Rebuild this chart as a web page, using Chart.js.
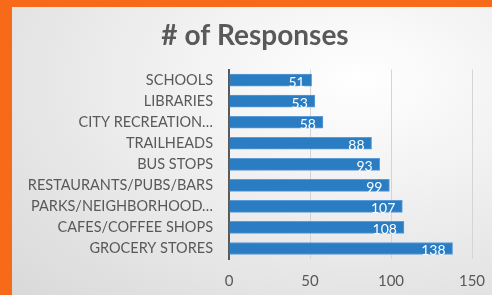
<!DOCTYPE html>
<html>
<head>
<meta charset="utf-8">
<script src="https://cdn.jsdelivr.net/npm/chart.js@4"></script>
<style>
  html, body { margin: 0; padding: 0; }
  body { width: 492px; height: 295px; background: #f76a1a; position: relative; overflow: hidden; }
  #panel {
    position: absolute; left: 12px; top: 7px; width: 480px; height: 288px;
    background: radial-gradient(ellipse at 72% 25%, #ffffff 0%, #f2f2f2 35%, #d9d9d9 100%);
  }
  #wrap { position: absolute; left: 0; top: 0; width: 492px; height: 295px; }
</style>
</head>
<body>
<div id="panel"></div>
<div id="wrap"><canvas id="chart" width="492" height="295"></canvas></div>
<script>
// -- Data --
const categories = [
  'SCHOOLS',
  'LIBRARIES',
  'CITY RECREATION…',
  'TRAILHEADS',
  'BUS STOPS',
  'RESTAURANTS/PUBS/BARS',
  'PARKS/NEIGHBORHOOD…',
  'CAFES/COFFEE SHOPS',
  'GROCERY STORES'
];
const responses = [51, 53, 58, 88, 93, 99, 107, 108, 138];
const xTicks = [0, 50, 100, 150];

const GRAY = '#595959';

// white value labels inside the bar ends
const valueLabels = {
  id: 'valueLabels',
  afterDatasetsDraw(chart) {
    const ctx = chart.ctx;
    const meta = chart.getDatasetMeta(0);
    ctx.save();
    ctx.fillStyle = '#ffffff';
    ctx.font = '14px Lato';
    ctx.textAlign = 'right';
    ctx.textBaseline = 'middle';
    meta.data.forEach((bar, i) => {
      ctx.fillText(String(responses[i]), bar.x - 7, bar.y + 2);
    });
    ctx.restore();
  }
};

new Chart(document.getElementById('chart'), {
  type: 'bar',
  data: {
    labels: categories,
    datasets: [{
      data: responses,
      backgroundColor: '#2a7dc3',
      borderColor: '#5c9bd6',
      borderWidth: 1,
      borderSkipped: 'start',
      barThickness: 12
    }]
  },
  plugins: [valueLabels],
  options: {
    indexAxis: 'y',
    responsive: false,
    animation: false,
    layout: { padding: { left: 18, right: 0, top: 0, bottom: 0 } },
    plugins: {
      legend: { display: false },
      tooltip: { enabled: false },
      title: {
        display: true,
        text: '# of Responses',
        color: GRAY,
        font: { family: 'Lato', size: 28, weight: 'bold' },
        padding: { top: 19, bottom: 17 }
      }
    },
    scales: {
      x: {
        min: 0,
        max: 150,
        afterBuildTicks: (scale) => { scale.ticks = xTicks.map(v => ({ value: v })); },
        afterFit: (scale) => {
          scale.height = 36;
          // keep the plot's right edge at the 150 gridline position
          scale.paddingLeft = 0;
          scale.paddingRight = 20;
        },
        grid: { color: '#d4d4d4', lineWidth: 1, drawTicks: false },
        border: { display: false },
        ticks: { color: GRAY, font: { family: 'Lato', size: 15 }, padding: 13 }
      },
      y: {
        afterFit: (scale) => { scale.width = 211; },
        grid: { display: false, drawTicks: false },
        border: { display: true, color: GRAY, width: 2 },
        ticks: { color: GRAY, font: { family: 'Lato', size: 14.5 }, padding: 16, autoSkip: false }
      }
    }
  }
});
</script>
</body>
</html>
